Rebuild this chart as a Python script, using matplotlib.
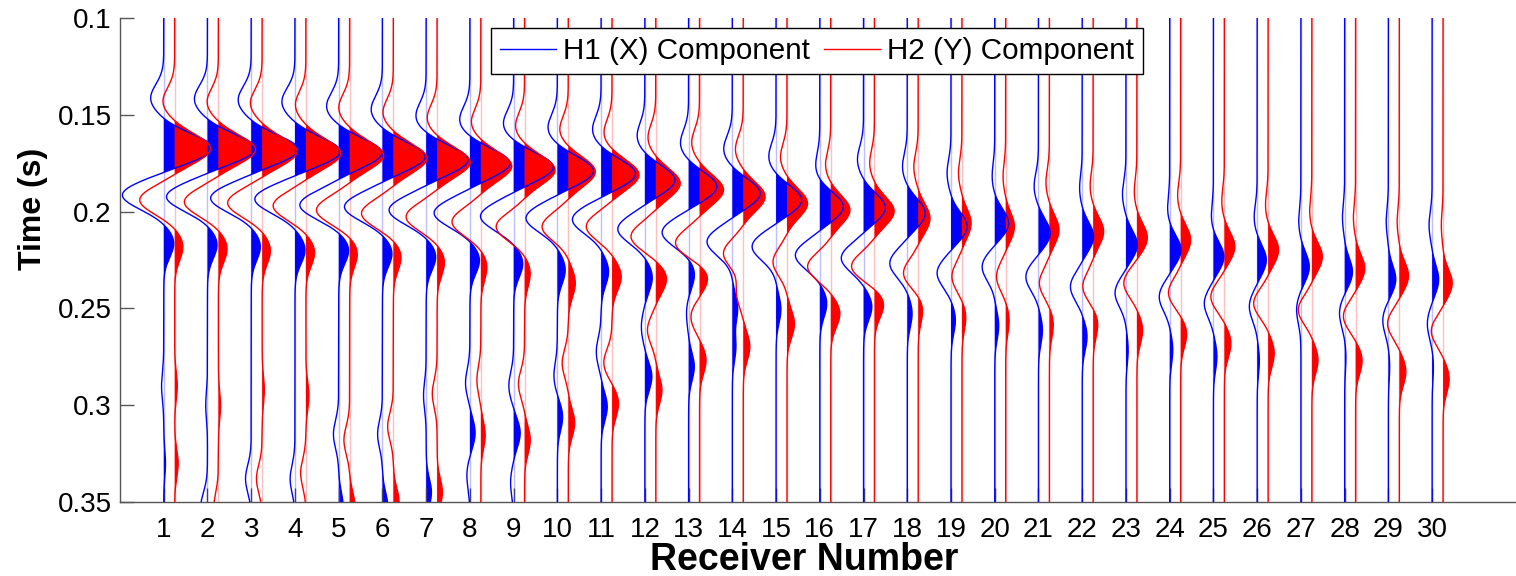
import matplotlib.pyplot as plt
import numpy as np

plt.rcParams['font.family'] = ['Liberation Sans', 'DejaVu Sans']

receivers = np.arange(1, 31)

# wiggle lobes: (time in s, amplitude in trace units)
h1_lobes = [
    [(0.1415, -0.30), (0.1673, 1.12), (0.1914, -0.95), (0.2163, 0.23), (0.290, -0.05), (0.330, 0.04)],
    [(0.1420, -0.30), (0.1675, 1.10), (0.1923, -0.94), (0.2170, 0.22), (0.300, -0.04), (0.352, -0.15)],
    [(0.1425, -0.30), (0.1680, 1.08), (0.1930, -0.93), (0.2180, 0.21), (0.338, -0.13)],
    [(0.1434, -0.30), (0.1690, 1.04), (0.1935, -0.92), (0.2198, 0.23), (0.338, -0.11)],
    [(0.1458, -0.28), (0.1697, 0.99), (0.1966, -0.89), (0.2198, 0.23), (0.315, -0.12), (0.352, 0.10)],
    [(0.1475, -0.26), (0.1716, 0.98), (0.1975, -0.87), (0.2215, 0.22), (0.315, -0.11), (0.352, 0.12)],
    [(0.1510, -0.24), (0.1733, 0.96), (0.1992, -0.85), (0.2232, 0.22), (0.295, -0.06), (0.345, 0.12)],
    [(0.1530, -0.24), (0.1750, 0.92), (0.2007, -0.82), (0.2250, 0.22), (0.2885, -0.10), (0.3144, 0.12), (0.336, -0.07)],
    [(0.1550, -0.24), (0.1770, 0.91), (0.2024, -0.76), (0.2267, 0.21), (0.2900, -0.11), (0.3144, 0.15), (0.340, -0.07)],
    [(0.1570, -0.22), (0.1790, 0.83), (0.2033, -0.72), (0.2301, 0.18), (0.2850, -0.08), (0.3060, 0.12)],
    [(0.1580, -0.20), (0.1805, 0.79), (0.2040, -0.66), (0.2310, 0.17), (0.2725, -0.11), (0.3008, 0.14)],
    [(0.1613, -0.18), (0.1837, 0.69), (0.2090, -0.62), (0.2340, 0.17), (0.2595, -0.08), (0.2853, 0.16)],
    [(0.1650, -0.19), (0.1871, 0.65), (0.2107, -0.61), (0.2320, 0.14), (0.2520, -0.05), (0.2801, 0.13)],
    [(0.1680, -0.20), (0.1906, 0.64), (0.2155, -0.58), (0.2500, 0.12), (0.2700, 0.08)],
    [(0.1720, -0.17), (0.1941, 0.59), (0.2180, -0.55), (0.2505, 0.11)],
    [(0.1770, -0.10), (0.1975, 0.54), (0.2225, -0.56), (0.2474, 0.16)],
    [(0.1733, -0.14), (0.1981, 0.50), (0.2240, -0.51), (0.2491, 0.19)],
    [(0.1770, -0.11), (0.2009, 0.41), (0.2267, -0.40), (0.2526, 0.11)],
    [(0.1802, -0.09), (0.2078, 0.37), (0.2317, -0.32), (0.2560, 0.10)],
    [(0.1820, -0.06), (0.2061, 0.32), (0.2284, -0.29), (0.2590, 0.09)],
    [(0.1871, -0.10), (0.2112, 0.27), (0.2336, -0.29), (0.2612, 0.09)],
    [(0.1880, -0.06), (0.2129, 0.26), (0.2388, -0.27), (0.2646, 0.11)],
    [(0.1910, -0.08), (0.2172, 0.26), (0.2420, -0.25), (0.2715, 0.05)],
    [(0.1990, -0.05), (0.2198, 0.26), (0.2440, -0.24), (0.2715, 0.07)],
    [(0.2030, -0.05), (0.2233, 0.24), (0.2474, -0.21), (0.2749, 0.08)],
    [(0.2033, -0.07), (0.2250, 0.21), (0.2490, -0.18), (0.2770, 0.05)],
    [(0.2050, -0.05), (0.2285, 0.19), (0.2505, -0.10)],
    [(0.2028, -0.05), (0.2313, 0.18), (0.2522, -0.12), (0.2750, 0.03)],
    [(0.2050, -0.05), (0.2351, 0.17), (0.2560, -0.13), (0.2800, 0.03)],
    [(0.2070, -0.07), (0.2351, 0.15), (0.2579, -0.11), (0.2800, 0.03)],
]

h2_lobes = [
    [(0.1432, -0.27), (0.1675, 0.82), (0.1940, -0.80), (0.2180, 0.19), (0.290, 0.06), (0.330, 0.08)],
    [(0.1435, -0.26), (0.1680, 0.85), (0.1950, -0.78), (0.2190, 0.20), (0.300, 0.05), (0.352, -0.10)],
    [(0.1440, -0.27), (0.1690, 0.80), (0.1955, -0.79), (0.2200, 0.19), (0.292, 0.05), (0.338, -0.13)],
    [(0.1450, -0.24), (0.1700, 0.80), (0.1970, -0.75), (0.2210, 0.20), (0.295, 0.07), (0.335, -0.12)],
    [(0.1465, -0.25), (0.1710, 0.78), (0.1992, -0.76), (0.2215, 0.18), (0.318, -0.13), (0.352, 0.12)],
    [(0.1490, -0.24), (0.1725, 0.77), (0.2010, -0.73), (0.2232, 0.18), (0.311, -0.13), (0.350, 0.13)],
    [(0.1520, -0.23), (0.1745, 0.76), (0.2027, -0.71), (0.2260, 0.17), (0.294, -0.11), (0.345, 0.12)],
    [(0.1540, -0.22), (0.1765, 0.71), (0.2053, -0.66), (0.2284, 0.14), (0.287, -0.09), (0.3155, 0.10)],
    [(0.1560, -0.21), (0.1785, 0.70), (0.2078, -0.65), (0.2318, 0.13), (0.289, -0.14), (0.3180, 0.13)],
    [(0.1580, -0.20), (0.1794, 0.62), (0.2078, -0.60), (0.2369, 0.16), (0.2782, -0.14), (0.3092, 0.145)],
    [(0.1597, -0.19), (0.1810, 0.62), (0.2077, -0.59), (0.2336, 0.21), (0.2782, -0.19), (0.2989, 0.15)],
    [(0.1620, -0.18), (0.1854, 0.56), (0.2129, -0.57), (0.2345, 0.25), (0.2612, -0.19), (0.2922, 0.14)],
    [(0.1645, -0.18), (0.1888, 0.55), (0.2164, -0.56), (0.2336, 0.21), (0.2543, -0.20), (0.2767, 0.15)],
    [(0.1680, -0.18), (0.1923, 0.50), (0.2215, -0.45), (0.2420, -0.15), (0.2698, 0.15)],
    [(0.1720, -0.15), (0.1958, 0.47), (0.2260, -0.32), (0.2580, 0.17)],
    [(0.1760, -0.12), (0.1992, 0.44), (0.2284, -0.53), (0.2526, 0.21)],
    [(0.1750, -0.11), (0.1998, 0.45), (0.2284, -0.53), (0.2474, 0.22)],
    [(0.1770, -0.10), (0.2035, 0.27), (0.2319, -0.34), (0.2500, 0.11)],
    [(0.1800, -0.08), (0.2061, 0.21), (0.2336, -0.23), (0.2543, 0.09)],
    [(0.1820, -0.06), (0.2078, 0.20), (0.2336, -0.21), (0.2560, 0.08)],
    [(0.1850, -0.08), (0.2095, 0.22), (0.2370, -0.23), (0.2580, 0.09)],
    [(0.1870, -0.07), (0.2103, 0.24), (0.2388, -0.24), (0.2577, 0.11)],
    [(0.1900, -0.06), (0.2136, 0.24), (0.2369, -0.30), (0.2612, 0.13)],
    [(0.1920, -0.07), (0.2147, 0.23), (0.2420, -0.28), (0.2630, 0.14)],
    [(0.1950, -0.06), (0.2181, 0.24), (0.2440, -0.31), (0.2680, 0.15)],
    [(0.1970, -0.06), (0.2198, 0.24), (0.2474, -0.33), (0.2732, 0.14)],
    [(0.2000, -0.05), (0.2233, 0.24), (0.2508, -0.31), (0.2767, 0.14)],
    [(0.2030, -0.05), (0.2294, 0.21), (0.2541, -0.28), (0.2769, 0.15)],
    [(0.2050, -0.05), (0.2332, 0.21), (0.2579, -0.27), (0.2826, 0.15)],
    [(0.2070, -0.04), (0.2370, 0.21), (0.2617, -0.27), (0.2864, 0.14)],
]

y_ticks = [0.1, 0.15, 0.2, 0.25, 0.3, 0.35]
y_tick_labels = ['0.1', '0.15', '0.2', '0.25', '0.3', '0.35']

lobe_width = 0.0072   # gaussian sigma of one lobe (s)
h2_shift = 0.25       # H2 trace drawn a quarter receiver to the right

t = np.linspace(0.09, 0.36, 2000)


def wiggle(lobes):
    w = np.zeros_like(t)
    for tc, a in lobes:
        w += a * np.exp(-0.5 * ((t - tc) / lobe_width) ** 2)
    return w


fig = plt.figure(figsize=(15.16, 5.76), dpi=100)
ax = fig.add_axes([120 / 1516, 74 / 576, 1399.6 / 1516, 484 / 576])

handles = {}
for r, l1, l2 in zip(receivers, h1_lobes, h2_lobes):
    for base, lobes, col in ((r, l1, 'blue'), (r + h2_shift, l2, 'red')):
        w = wiggle(lobes)
        ax.fill_betweenx(t, base, base + w, where=w > 0, interpolate=True,
                         color=col, lw=0, zorder=1)
        ax.axvline(base, color=col, lw=1, alpha=0.25, zorder=2)
        handles[col], = ax.plot(base + w, t, color=col, lw=1, zorder=3)

ax.set_xlim(0, 32)
ax.set_ylim(0.35, 0.1)
ax.set_xticks(receivers)
ax.set_yticks(y_ticks)
ax.set_yticklabels(y_tick_labels)
ax.tick_params(direction='in', length=10, width=1, color='#555555',
               labelsize=20, labelcolor='black')
ax.tick_params(axis='x', pad=11)
ax.tick_params(axis='y', pad=6)
for s in ['top', 'right']:
    ax.spines[s].set_visible(False)
for s in ['left', 'bottom']:
    ax.spines[s].set_color('#555555')
    ax.spines[s].set_linewidth(1)

ax.set_xlabel('Receiver Number', fontsize=27, fontweight='bold')
ax.xaxis.set_label_coords(0.489, -0.083)
ax.set_ylabel('Time (s)', fontsize=23, fontweight='bold')
ax.yaxis.set_label_coords(-0.0514, 0.605)

leg = ax.legend([handles['blue'], handles['red']],
                ['H1 (X) Component', 'H2 (Y) Component'],
                loc='upper left', bbox_to_anchor=(491 / 1516, 1 - 28 / 576),
                bbox_transform=fig.transFigure, ncol=2, fontsize=21.3,
                frameon=True, fancybox=False, edgecolor='black', framealpha=1,
                handlelength=1.9, handletextpad=0.25, columnspacing=0.45,
                borderpad=0.3, borderaxespad=0)
leg.get_frame().set_linewidth(1)

fig.savefig('out.png', dpi=100)
